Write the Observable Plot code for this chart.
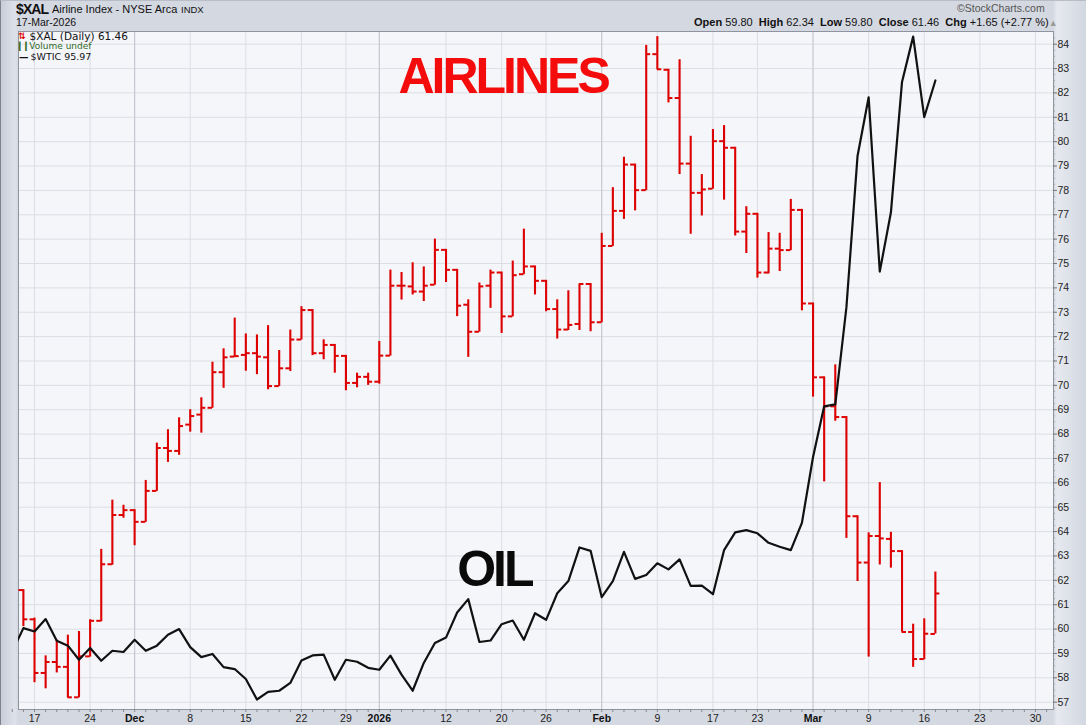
<!DOCTYPE html>
<html><head><meta charset="utf-8">
<script src="https://cdn.jsdelivr.net/npm/d3@7"></script>
<script src="https://cdn.jsdelivr.net/npm/@observablehq/plot@0.6"></script>
<style>
html,body{margin:0;padding:0;}
body{background:#d4d8e1;}
#wrap{position:relative;width:1086px;height:725px;overflow:hidden;box-sizing:border-box;
  background:linear-gradient(to right,#c9cdd8 0px,#dfe2ea 14px,#d4d8e1 17px,#d4d8e1 1052px,#e6e9ef 1056px,#d2d6df 1086px);
  border-left:1px solid #7d8290;border-top:1px solid #b9bdc8;font-family:"Liberation Sans",Arial,sans-serif;color:#111;}
#chart{position:absolute;left:-1px;top:-1px;}
.abs{position:absolute;white-space:nowrap;}
#sym{left:15px;top:0px;font-size:14px;font-weight:bold;letter-spacing:-0.9px;}
#name{left:51px;top:2px;font-size:11px;}
#indx{left:180px;top:3px;font-size:9.5px;}
#date{left:15px;top:15px;font-size:10.5px;}
#copy{left:956px;top:1px;font-size:10.5px;color:#555;}
#ohlc{left:693px;top:15px;font-size:11px;}
#ohlc b{font-weight:bold;}
.leg{font-family:"DejaVu Sans",Verdana,sans-serif;}
#leg1{left:30px;top:29px;font-size:10.5px;color:#111;}
#leg2{left:30px;top:40px;font-size:9px;color:#2f6b1f;}
#leg3{left:30px;top:50px;font-size:9.5px;color:#111;}
</style></head><body>
<div id="wrap">
<div id="chart"></div>
<div class="abs" id="sym">$XAL</div>
<div class="abs" id="name">Airline Index - NYSE Arca</div>
<div class="abs" id="indx">INDX</div>
<div class="abs" id="date">17-Mar-2026</div>
<div class="abs" id="copy">&#169;StockCharts.com</div>
<div class="abs" id="ohlc"><b>Open</b> 59.80&nbsp; <b>High</b> 62.34&nbsp; <b>Low</b> 59.80&nbsp; <b>Close</b> 61.46&nbsp; <b>Chg</b> +1.65 (+2.77 %)<span style="color:#999;font-size:9px">&#9650;</span></div>
<div class="abs leg" id="leg1"><span style="color:#d00;font-weight:bold;font-size:9px;position:relative;left:-13px;top:-1px">&#8645;</span><span style="margin-left:-9px">$XAL (Daily) 61.46</span></div>
<div class="abs leg" id="leg2"><span style="position:relative;left:-12px;font-size:8px">&#9614;&#9614;</span><span style="margin-left:-14px">Volume undef</span></div>
<div class="abs leg" id="leg3"><span style="position:relative;left:-12px;font-weight:bold">&#8212;</span><span style="margin-left:-10px">$WTIC 95.97</span></div>
</div>
<script>
// ---- trading days (categories) ----
const dates = [
"2025-11-13","2025-11-14",
"2025-11-17","2025-11-18","2025-11-19","2025-11-20","2025-11-21",
"2025-11-24","2025-11-25","2025-11-26","2025-11-28",
"2025-12-01","2025-12-02","2025-12-03","2025-12-04","2025-12-05",
"2025-12-08","2025-12-09","2025-12-10","2025-12-11","2025-12-12",
"2025-12-15","2025-12-16","2025-12-17","2025-12-18","2025-12-19",
"2025-12-22","2025-12-23","2025-12-24","2025-12-26",
"2025-12-29","2025-12-30","2025-12-31","2026-01-02",
"2026-01-05","2026-01-06","2026-01-07","2026-01-08","2026-01-09",
"2026-01-12","2026-01-13","2026-01-14","2026-01-15","2026-01-16",
"2026-01-20","2026-01-21","2026-01-22","2026-01-23",
"2026-01-26","2026-01-27","2026-01-28","2026-01-29","2026-01-30",
"2026-02-02","2026-02-03","2026-02-04","2026-02-05","2026-02-06",
"2026-02-09","2026-02-10","2026-02-11","2026-02-12","2026-02-13",
"2026-02-17","2026-02-18","2026-02-19","2026-02-20",
"2026-02-23","2026-02-24","2026-02-25","2026-02-26","2026-02-27",
"2026-03-02","2026-03-03","2026-03-04","2026-03-05","2026-03-06",
"2026-03-09","2026-03-10","2026-03-11","2026-03-12","2026-03-13",
"2026-03-16","2026-03-17","2026-03-18","2026-03-19","2026-03-20",
"2026-03-23","2026-03-24","2026-03-25","2026-03-26","2026-03-27",
"2026-03-30","2026-03-31"];

// ---- $XAL daily OHLC (from 2025-11-13) ----
const open = [null,
61.60,60.40,58.20,58.65,58.45,57.20,58.88,60.34,62.66,64.68,
64.88,64.40,65.67,67.43,67.31,68.39,68.80,69.08,70.54,71.18,
71.25,71.32,71.15,69.97,70.70,71.88,73.09,71.32,71.66,71.21,
70.10,70.35,70.15,71.22,74.09,74.06,73.85,74.13,75.56,74.74,
73.31,72.20,74.09,74.63,72.83,74.56,74.88,74.29,73.13,72.29,
72.52,74.16,72.59,75.72,77.16,79.06,78.01,83.59,82.95,81.79,
79.10,77.90,78.07,80.02,79.75,76.31,77.04,74.63,75.61,75.55,
77.20,73.36,70.33,69.14,68.70,64.63,62.73,63.82,63.70,63.20,
59.88,58.77,59.80];
const high = [null,
61.62,60.45,58.90,59.55,59.75,59.90,60.38,63.27,65.29,65.08,
64.90,66.10,67.63,68.18,68.67,69.00,69.49,70.95,71.50,72.76,
72.11,72.07,72.45,71.43,72.27,73.23,73.11,71.87,71.68,71.23,
70.50,70.50,71.80,74.73,74.63,75.03,74.86,76.00,75.58,74.76,
73.51,74.20,74.73,74.65,75.10,76.41,74.90,74.31,73.51,73.88,
74.16,74.18,76.24,78.11,79.36,79.08,83.95,84.31,82.97,83.36,
80.22,78.65,80.50,80.66,79.77,77.33,77.06,76.27,76.24,77.63,
77.22,73.38,70.35,70.84,68.72,64.65,63.95,66.01,63.97,63.22,
60.20,60.42,62.34];
const low = [null,
60.10,57.80,57.55,58.20,57.18,57.18,58.85,60.30,62.62,64.55,
63.42,64.38,65.65,66.84,67.13,68.08,68.04,69.06,69.88,71.16,
70.58,70.44,69.82,69.95,70.57,71.86,71.22,71.05,70.50,69.78,
69.90,70.00,70.05,71.20,73.50,73.71,73.44,74.11,74.22,72.82,
71.15,72.18,73.16,72.13,72.81,74.54,73.71,73.02,71.90,72.25,
72.25,72.20,72.57,75.70,76.81,77.16,77.99,82.95,81.59,78.65,
76.20,76.95,78.05,77.60,76.13,75.41,74.40,74.57,74.67,75.53,
73.06,69.52,66.04,68.53,63.72,61.95,58.85,62.63,62.50,59.88,
58.43,58.74,59.80];
const close = [null,
60.40,58.20,58.65,58.45,57.20,58.88,60.34,62.66,64.68,64.88,
64.40,65.67,67.43,67.31,68.33,68.74,69.08,70.54,71.15,71.20,
71.32,71.18,69.97,70.70,71.88,73.09,71.32,71.66,71.21,70.10,
70.35,70.15,71.22,74.09,74.09,73.85,74.09,75.56,74.74,73.27,
72.20,74.06,74.63,72.83,74.52,74.88,74.29,73.13,72.29,72.48,
74.16,72.59,75.72,77.16,79.06,78.01,83.59,82.97,81.79,79.10,
77.90,78.04,80.02,79.75,76.31,77.04,74.63,75.61,75.55,77.20,
73.36,70.33,69.14,68.70,64.63,62.73,63.82,63.72,63.20,59.88,
58.77,59.81,61.46];

// ---- $WTIC overlay, as plotted on the price scale (from 2025-11-13) ----
const oil = [59.08,
60.04,59.90,60.41,59.52,59.32,58.74,59.22,58.70,59.11,59.06,
59.56,59.11,59.32,59.77,60.00,59.26,58.85,58.98,58.44,58.36,
57.95,57.11,57.42,57.47,57.79,58.71,58.92,58.95,57.92,58.74,
58.66,58.41,58.33,58.91,58.13,57.47,58.61,59.43,59.65,60.68,
61.23,59.47,59.53,60.20,60.35,59.56,60.65,60.38,61.47,61.97,
63.35,63.21,61.31,61.97,63.17,62.06,62.22,62.70,62.45,62.86,
61.77,61.78,61.43,63.24,63.97,64.06,63.93,63.54,63.38,63.24,
64.36,67.06,69.14,69.22,73.20,79.41,81.82,74.67,77.09,82.45,
84.31,81.01,82.51];

// ---- axis ticks ----
const tickDates = ["2025-11-17","2025-11-24","2025-12-01","2025-12-08","2025-12-15","2025-12-22","2025-12-29","2026-01-02","2026-01-12","2026-01-20","2026-01-26","2026-02-02","2026-02-09","2026-02-17","2026-02-23","2026-03-02","2026-03-09","2026-03-16","2026-03-23","2026-03-30"];
const tickLabels = ["17","24","Dec","8","15","22","29","2026","12","20","26","Feb","9","17","23","Mar","9","16","23","30"];
const monthLabels = ["Dec","2026","Feb","Mar"];
const yTicks = d3.range(57, 85);
const yMinor = d3.range(56.75, 84.5, 0.25);

// ---- annotations ----
const notes = [
  {date: "2026-01-05", value: 81.98, text: "AIRLINES", color: "#f40c0c", shift: 8},
  {date: "2026-01-13", value: 61.77, text: "OIL", color: "#0a0a0a", shift: 0}
];

const K = new Map(dates.map((d, k) => [d, k]));
const bars = open.map((o, k) => ({k, o, h: high[k], l: low[k], c: close[k]})).filter(d => d.o != null);
const oilData = oil.map((v, k) => ({k, v}));
const ticks = tickDates.map((d, j) => ({k: K.get(d), label: tickLabels[j], month: monthLabels.includes(tickLabels[j])}));
const days = dates.map((d, k) => ({k}));
const noteData = notes.map(n => ({...n, k: K.get(n.date)}));

const RED = "#dd0000";
const GRID = "#dcdee5";
const noteMarks = noteData.map(n => Plot.text([n], {x: "k", y: "value", text: "text", fill: "color", textAnchor: "start",
  lineAnchor: "bottom", dx: n.shift, fontSize: 50, fontWeight: "bold", fontFamily: "Liberation Sans, Arial, sans-serif"}));
const chart = Plot.plot({
  width: 1086, height: 725,
  marginTop: 31, marginBottom: 16, marginLeft: 18, marginRight: 33,
  style: {background: "transparent", fontFamily: "Liberation Sans, Arial, sans-serif", color: "#222", overflow: "visible"},
  x: {type: "linear", domain: [0.56, 93.62], axis: null},
  y: {type: "linear", domain: [56.70, 84.52], axis: null},
  marks: [
    Plot.frame({fill: "#f5f6fa", stroke: null}),
    Plot.ruleY(yTicks, {y: d => d, stroke: GRID, strokeWidth: 1}),
    Plot.ruleX(ticks.filter(t => !t.month), {x: "k", stroke: GRID, strokeWidth: 1}),
    Plot.ruleX(ticks.filter(t => t.month), {x: "k", stroke: "#c4c7cf", strokeWidth: 1.2}),
    Plot.frame({stroke: "#8f94a0", strokeWidth: 1}),
    // bottom day ticks
    Plot.ruleX(days, {x: "k", insetTop: 678, insetBottom: -3, stroke: "#888", strokeWidth: 1}),
    // right axis ticks
    Plot.ruleY(yMinor, {y: d => d, insetLeft: 1035, insetRight: -2, stroke: "#999", strokeWidth: 0.8}),
    Plot.ruleY(yTicks, {y: d => d, insetLeft: 1035, insetRight: -4, stroke: "#777", strokeWidth: 1}),
    // OHLC bars
    Plot.ruleX(bars, {x: "k", y1: "l", y2: "h", stroke: RED, strokeWidth: 2.1}),
    Plot.ruleY(bars, {y: "o", x1: d => d.k - 0.4, x2: "k", stroke: RED, strokeWidth: 2}),
    Plot.ruleY(bars, {y: "c", x1: "k", x2: d => d.k + 0.4, stroke: RED, strokeWidth: 2}),
    // oil overlay
    Plot.line(oilData, {x: "k", y: "v", stroke: "#111", strokeWidth: 2.2, clip: true}),
    // annotations
    ...noteMarks,
    // y labels
    Plot.text(yTicks, {y: d => d, text: d => String(d), frameAnchor: "right", dx: 4, textAnchor: "start",
      fontSize: 10.5, fill: "#222"}),
    // x labels
    Plot.text(ticks.filter(t => !t.month), {x: "k", text: "label", frameAnchor: "bottom", dy: 9, lineAnchor: "middle",
      fontSize: 10.5, fill: "#222"}),
    Plot.text(ticks.filter(t => t.month), {x: "k", text: "label", frameAnchor: "bottom", dy: 9, lineAnchor: "middle",
      fontSize: 10.5, fontWeight: "bold", fill: "#111"})
  ]
});
d3.select(chart).selectAll("text").filter(function() {
  return this.textContent === "AIRLINES" || this.textContent === "OIL";
}).attr("letter-spacing", "-3px");
document.getElementById("chart").appendChild(chart);
</script>
</body></html>
